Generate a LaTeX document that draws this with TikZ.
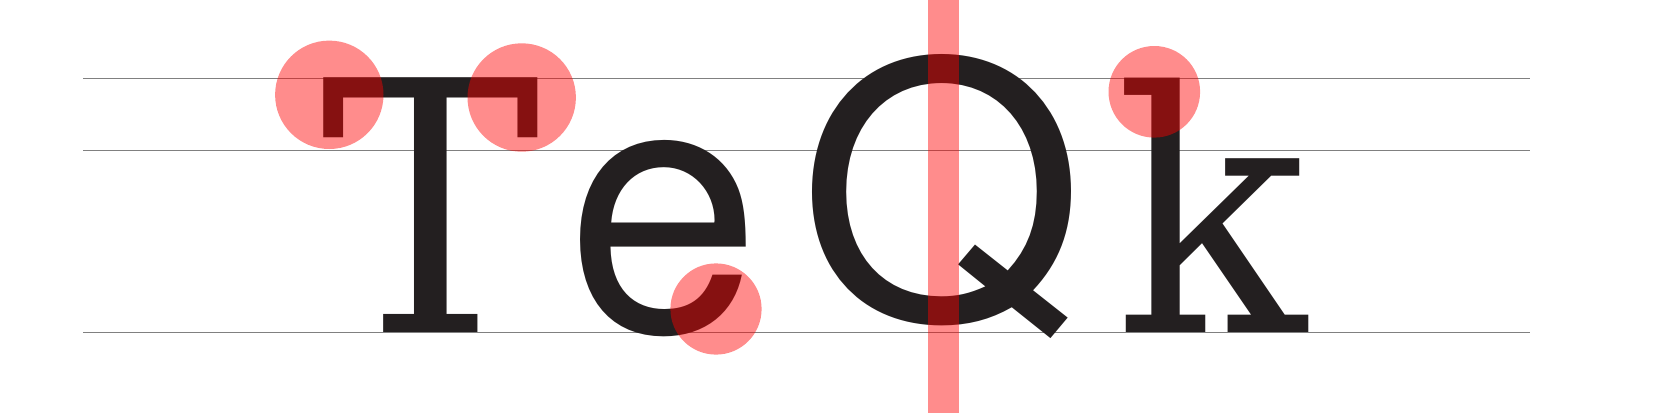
\documentclass[tikz,border=0pt]{standalone}
\usepackage{fontspec}
\newfontfamily\slabfont{DejaVu Serif}
\newfontfamily\grotfont{TeX Gyre Heros}
\definecolor{ink}{HTML}{231F20}
\definecolor{guide}{HTML}{808080}
\newcommand{\glyphfit}[3]{\scalebox{#1}[1]{\resizebox{!}{#2}{#3}}}
\begin{document}
\begin{tikzpicture}[
    x=1pt, y=-1pt,
    glyph/.style={inner sep=0pt, outer sep=0pt, anchor=south west, text=ink},
    guideline/.style={draw=guide, line width=0.8pt},
    spot/.style={fill=red, fill opacity=0.45},
]
\useasboundingbox (0,0) rectangle (1680,413);

% Guide lines
\coordinate (capL) at (83,78.3);   \coordinate (capR) at (1530,78.3);
\coordinate (xhL)  at (83,150.7);  \coordinate (xhR)  at (1530,150.7);
\coordinate (baseL) at (83,332.3); \coordinate (baseR) at (1530,332.3);
\draw[guideline] (capL) -- (capR);
\draw[guideline] (xhL) -- (xhR);
\draw[guideline] (baseL) -- (baseR);

% Letters
\node[glyph, font=\slabfont] (T) at (320.8,332.5) {\glyphfit{0.946}{254.5pt}{T}};
\node[glyph, font=\grotfont] (e) at (566.6,337.3) {\glyphfit{0.988}{190.6pt}{e}};
\node[glyph, font=\grotfont] (Q) at (798.6,339) {\glyphfit{1.037}{265pt}{Q}};
\node[glyph, font=\slabfont] (k) at (1115.6,332.3) {\glyphfit{0.942}{254.3pt}{k}};

% Highlights
\fill[spot] (329.3,94.8) circle [radius=54.2];
\fill[spot] (521.7,97.5) circle [radius=54.2];
\fill[spot] (716,309.0) circle [radius=45.6];
\fill[spot] (1154.3,91.8) circle [radius=45.8];
\fill[spot] (927.9,0) rectangle (958.9,413);

\end{tikzpicture}
\end{document}
